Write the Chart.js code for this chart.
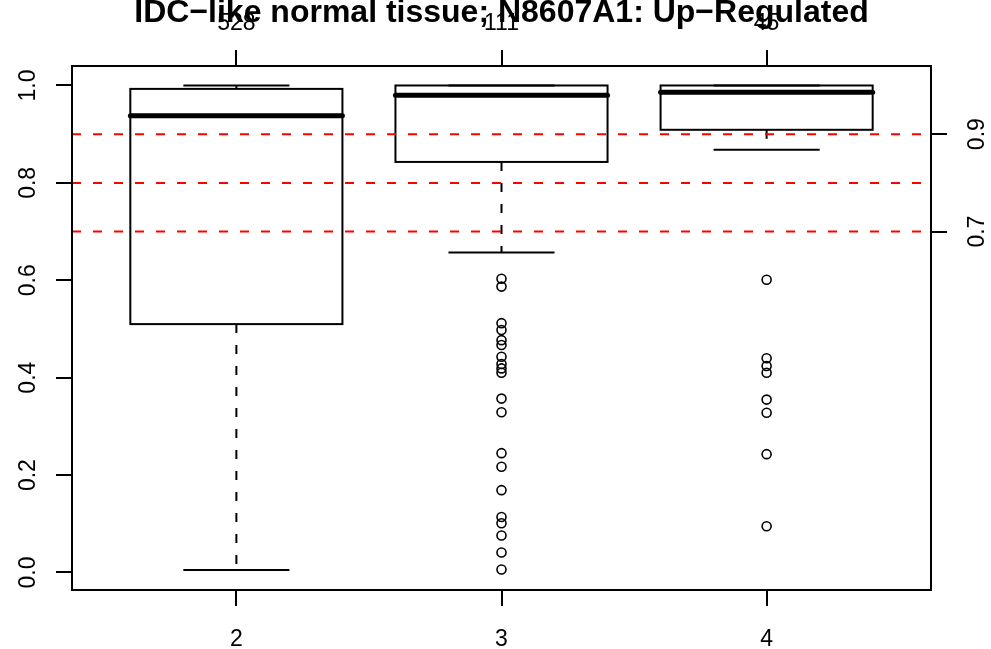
<!DOCTYPE html>
<html>
<head>
<meta charset="utf-8">
<script src="https://cdn.jsdelivr.net/npm/chart.js@4.4.1/dist/chart.umd.min.js"></script>
<style>
  html, body { margin: 0; padding: 0; background: #fff; }
  #wrap { width: 991px; height: 649px; }
</style>
</head>
<body>
<div id="wrap"><canvas id="myChart" width="991" height="649"></canvas></div>
<script>
// Boxplot data, one entry per group
const chartTitle = 'IDC−like normal tissue; N8607A1: Up−Regulated';
const categories = ['2', '3', '4'];
const groupCounts = [528, 111, 45];
const whiskerLow = [0.005, 0.657, 0.868];
const quartile1 = [0.510, 0.843, 0.909];
const medians = [0.938, 0.980, 0.986];
const quartile3 = [0.993, 1.0, 1.0];
const whiskerHigh = [1.0, 1.0, 1.0];

// points beyond the whiskers
const outliers2 = [];
const outliers3 = [0.603, 0.587, 0.512, 0.498, 0.477, 0.467, 0.443, 0.428, 0.419, 0.410,
                   0.357, 0.329, 0.245, 0.217, 0.169, 0.114, 0.101, 0.076, 0.041, 0.006];
const outliers4 = [0.601, 0.440, 0.424, 0.410, 0.355, 0.328, 0.243, 0.095];

const cutoffLines = [0.9, 0.8, 0.7];
const leftTicks = [0, 0.2, 0.4, 0.6, 0.8, 1.0];
const rightTicks = [0.7, 0.9];

const FONT = "'Liberation Sans', Arial, Helvetica, sans-serif";

const outlierPoints = [outliers2, outliers3, outliers4]
    .flatMap((vals, i) => vals.map(v => ({ x: i + 1, y: v })));

// R-style axis: black ticks pointing outward, no grid inside the plot
const axisStyle = (fixedSize) => ({
    type: 'linear',
    border: { display: false },
    grid: { drawOnChartArea: false, drawTicks: true, tickLength: 16, color: '#000', lineWidth: 2 },
    afterFit: (scale) => {
        if (scale.isHorizontal()) scale.height = fixedSize; else scale.width = fixedSize;
    }
});

const boxplotPlugin = {
    id: 'boxplot',
    beforeDatasetsDraw(chart) {
        const { ctx, scales: { x, y } } = chart;
        const seg = (x1, y1, x2, y2) => {
            ctx.beginPath();
            ctx.moveTo(x1, y1);
            ctx.lineTo(x2, y2);
            ctx.stroke();
        };
        ctx.save();
        ctx.strokeStyle = '#000';
        categories.forEach((c, i) => {
            const pos = i + 1;
            const cx = x.getPixelForValue(pos);
            const boxL = x.getPixelForValue(pos - 0.4);
            const boxR = x.getPixelForValue(pos + 0.4);
            const capL = x.getPixelForValue(pos - 0.2);
            const capR = x.getPixelForValue(pos + 0.2);
            const yLo = y.getPixelForValue(whiskerLow[i]);
            const yQ1 = y.getPixelForValue(quartile1[i]);
            const yMed = y.getPixelForValue(medians[i]);
            const yQ3 = y.getPixelForValue(quartile3[i]);
            const yHi = y.getPixelForValue(whiskerHigh[i]);

            // dashed whiskers
            ctx.lineWidth = 2;
            ctx.lineCap = 'butt';
            ctx.setLineDash([9, 12]);
            seg(cx, yQ3, cx, yHi);
            seg(cx, yQ1, cx, yLo);
            ctx.setLineDash([]);

            // whisker staples
            seg(capL, yHi, capR, yHi);
            seg(capL, yLo, capR, yLo);

            // box
            ctx.strokeRect(boxL, yQ3, boxR - boxL, yQ1 - yQ3);

            // median
            ctx.lineWidth = 5;
            ctx.lineCap = 'round';
            seg(boxL, yMed, boxR, yMed);
        });
        ctx.restore();
    },
    afterDatasetsDraw(chart) {
        const { ctx, chartArea: a, scales: { y } } = chart;
        ctx.save();
        ctx.beginPath();
        ctx.rect(a.left, a.top, a.right - a.left, a.bottom - a.top);
        ctx.clip();
        ctx.strokeStyle = '#ff0000';
        ctx.lineWidth = 2;
        ctx.setLineDash([9, 12]);
        cutoffLines.forEach(v => {
            const py = y.getPixelForValue(v);
            ctx.beginPath();
            ctx.moveTo(a.left, py);
            ctx.lineTo(a.right, py);
            ctx.stroke();
        });
        ctx.restore();
    },
    afterDraw(chart) {
        const { ctx, chartArea: a } = chart;
        ctx.save();
        // plot frame
        ctx.strokeStyle = '#000';
        ctx.lineWidth = 2;
        ctx.strokeRect(a.left, a.top, a.right - a.left, a.bottom - a.top);
        // main title
        ctx.fillStyle = '#000';
        ctx.font = 'bold 32px ' + FONT;
        ctx.textAlign = 'center';
        ctx.textBaseline = 'alphabetic';
        ctx.fillText(chartTitle, (a.left + a.right) / 2, 22);
        ctx.restore();
    }
};

const ctx = document.getElementById('myChart').getContext('2d');
new Chart(ctx, {
    type: 'scatter',
    data: {
        datasets: [{
            data: outlierPoints,
            pointStyle: 'circle',
            pointRadius: 4.5,
            pointHoverRadius: 4.5,
            borderWidth: 1.6,
            borderColor: '#000',
            backgroundColor: 'rgba(0,0,0,0)',
            xAxisID: 'x',
            yAxisID: 'y'
        }]
    },
    options: {
        responsive: false,
        animation: false,
        devicePixelRatio: 1,
        layout: { padding: 0 },
        plugins: {
            legend: { display: false },
            tooltip: { enabled: false },
            title: { display: false }
        },
        scales: {
            x: {
                ...axisStyle(59),
                position: 'bottom',
                min: 0.38,
                max: 3.62,
                afterBuildTicks: s => { s.ticks = categories.map((c, i) => ({ value: i + 1 })); },
                ticks: {
                    autoSkip: false, maxRotation: 0, padding: 20, color: '#000',
                    font: { family: FONT, size: 23 },
                    callback: v => categories[v - 1]
                }
            },
            x2: {
                ...axisStyle(66),
                position: 'top',
                min: 0.38,
                max: 3.62,
                afterBuildTicks: s => { s.ticks = groupCounts.map((n, i) => ({ value: i + 1 })); },
                ticks: {
                    autoSkip: false, maxRotation: 0, padding: 13, color: '#000',
                    font: { family: FONT, size: 23 },
                    callback: v => String(groupCounts[v - 1])
                }
            },
            y: {
                ...axisStyle(72),
                position: 'left',
                min: -0.036,
                max: 1.04,
                afterBuildTicks: s => { s.ticks = leftTicks.map(v => ({ value: v })); },
                ticks: {
                    autoSkip: false, minRotation: 90, maxRotation: 90, crossAlign: 'center',
                    padding: 11, color: '#000',
                    font: { family: FONT, size: 23 },
                    callback: v => v.toFixed(1)
                }
            },
            y2: {
                ...axisStyle(60),
                position: 'right',
                min: -0.036,
                max: 1.04,
                afterBuildTicks: s => { s.ticks = rightTicks.map(v => ({ value: v })); },
                ticks: {
                    autoSkip: false, minRotation: 90, maxRotation: 90, crossAlign: 'center',
                    padding: 15, color: '#000',
                    font: { family: FONT, size: 23 },
                    callback: v => v.toFixed(1)
                }
            }
        }
    },
    plugins: [boxplotPlugin]
});
</script>
</body>
</html>
